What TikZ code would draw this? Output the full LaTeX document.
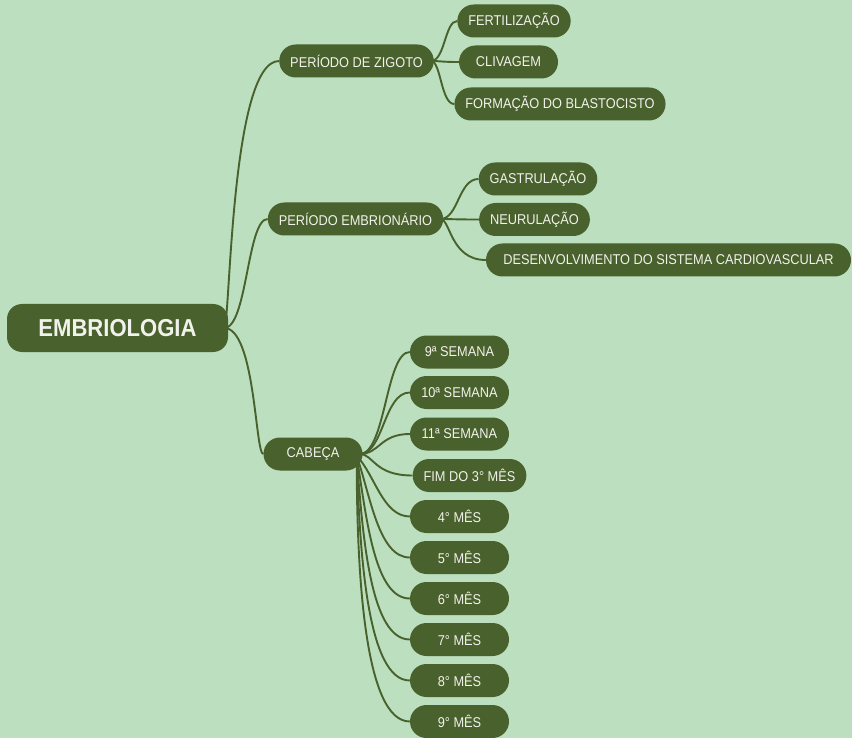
\documentclass[tikz,border=0pt]{standalone}
\usepackage{fontspec}
\setmainfont{Liberation Sans}[FakeStretch=0.9]
\usetikzlibrary{calc,backgrounds}
\definecolor{bgc}{RGB}{187,223,191}
\definecolor{dk}{RGB}{73,97,45}
\definecolor{tx}{RGB}{242,242,236}
% #1 parent, #2 child, #3 start shift, #4 bend distance
\newcommand\lnk[4]{%
  \draw[link] ($(#1.east)+(#3,0)$) .. controls ($(#1.east)+(#3+#4,0)$)
    and ($(#1.east |- #2.west)+(#3+#4,0)$) .. (#2.west);}
% downward fan from CABECA: #1 child, #2 x spread, #3 fraction, #4 end bend
\newcommand\dlnk[4]{%
  \coordinate (s) at ($(cab.east)+(-6,2)$);
  \coordinate (m) at (s |- #1.west);
  \draw[link] (s) .. controls ($($(s)!#3!(m)$)+(#2,0)$)
    and ($(m)+(#2+#4,0)$) .. (#1.west);}
\begin{document}
\begin{tikzpicture}[x=1pt,y=-1pt,
  box/.style={fill=dk, text=tx, rounded corners=16.5pt, minimum height=33pt,
    minimum width=99pt, inner xsep=11pt, inner ysep=0pt,
    font=\fontsize{14.2}{16}\selectfont},
  rootbox/.style={fill=dk, text=tx, rounded corners=15pt, minimum height=48pt,
    minimum width=221pt, font=\fontsize{24.5}{28}\selectfont\bfseries},
  link/.style={draw=dk, line width=1.9pt}]
\useasboundingbox (0,0) rectangle (852,738);

\node[rootbox] (root) at (117.5,328) {EMBRIOLOGIA};

\node[box] (zig) at (356.5,61) {PERÍODO DE ZIGOTO};
\node[box] (fert) at (514,21) {FERTILIZAÇÃO};
\node[box] (cliv) at (508.5,62) {CLIVAGEM};
\node[box] (blas) at (560,104) {FORMAÇÃO DO BLASTOCISTO};

\node[box] (emb) at (355.5,219) {PERÍODO EMBRIONÁRIO};
\node[box] (gast) at (538,179) {GASTRULAÇÃO};
\node[box] (neur) at (534.5,219.5) {NEURULAÇÃO};
\node[box, minimum width=365pt] (card) at (668.5,260) {DESENVOLVIMENTO DO SISTEMA CARDIOVASCULAR};

\node[box] (cab) at (313,454) {CABEÇA};
\node[box] (w9) at (459.5,352) {9ª SEMANA};
\node[box] (w10) at (459.5,392.5) {10ª SEMANA};
\node[box] (w11) at (459.5,434) {11ª SEMANA};
\node[box] (fim) at (469.5,475.5) {FIM DO 3° MÊS};
\node[box] (m4) at (459.5,516.5) {4° MÊS};
\node[box] (m5) at (459.5,557.5) {5° MÊS};
\node[box] (m6) at (459.5,598.5) {6° MÊS};
\node[box] (m7) at (459.5,639.5) {7° MÊS};
\node[box] (m8) at (459.5,680.5) {8° MÊS};
\node[box] (m9) at (459.5,721.5) {9° MÊS};

\begin{pgfonlayer}{background}
\fill[bgc] (0,0) rectangle (852,738);
\lnk{root}{zig}{-4}{6}
\lnk{root}{emb}{-4}{23}
\lnk{root}{cab}{-4}{31}

\lnk{zig}{fert}{-3}{14}
\lnk{zig}{cliv}{-3}{10}
\lnk{zig}{blas}{-3}{10}

\lnk{emb}{gast}{-3}{18}
\lnk{emb}{neur}{-3}{12}
\lnk{emb}{card}{-3}{10}

\lnk{cab}{w9}{-3}{26}
\lnk{cab}{w10}{-3}{24}
\lnk{cab}{w11}{-3}{20}
\lnk{cab}{fim}{-3}{14}
\dlnk{m4}{18}{0.3}{8}
\dlnk{m5}{14}{0.4}{8}
\dlnk{m6}{10}{0.45}{8}
\dlnk{m7}{6}{0.45}{8}
\dlnk{m8}{3}{0.45}{8}
\dlnk{m9}{0}{0.45}{8}
\end{pgfonlayer}
\end{tikzpicture}
\end{document}
